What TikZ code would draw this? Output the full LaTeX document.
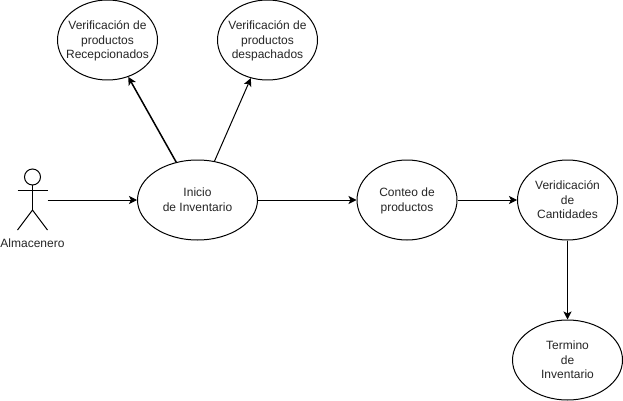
\documentclass[tikz,border=0pt]{standalone}
\usepackage{fontspec}
\setmainfont{Liberation Sans}
\usetikzlibrary{arrows.meta,shapes.geometric}
\newcommand{\uctext}[1]{\makebox[0pt]{\raisebox{-4.2pt}[0pt][0pt]{\begin{tabular}{@{}c@{}}#1\end{tabular}}}}
\tikzset{
  uc/.style={draw=black,line width=1pt,ellipse,fill=white,inner sep=0pt,minimum height=80pt,font=\fontsize{12}{14.7}\selectfont,text=black!85},
  flow/.style={draw=black,line width=1pt,-{Stealth[length=8pt,width=8pt,inset=2pt]}},
  heavy/.style={flow,line width=1.5pt},
  stick/.style={draw=black,line width=1pt},
}
\begin{document}
\begin{tikzpicture}[x=1pt,y=-1pt]
\useasboundingbox (0,0) rectangle (623,401);
\fill[white] (0,0) rectangle (623,401);
\node[uc,minimum width=100pt] (rec) at (107.5,40) {\uctext{Verificación de\\productos\\Recepcionados}};
\node[uc,minimum width=100pt] (des) at (267.5,40) {\uctext{Verificación de\\productos\\despachados}};
\node[uc,minimum width=120pt] (ini) at (197.5,200) {\uctext{Inicio\\de Inventario}};
\node[uc,minimum width=100pt] (con) at (407,200) {\uctext{Conteo de\\productos}};
\node[uc,minimum width=100pt] (ver) at (567.5,200) {\uctext{Veridicación\\de\\Cantidades}};
\node[uc,minimum width=110pt] (ter) at (567.5,360) {\uctext{Termino\\de\\Inventario}};
\node[inner sep=0pt,minimum width=30pt,minimum height=60pt] (act) at (32.5,200) {};
\node[inner sep=0pt,font=\fontsize{12}{14.7}\selectfont,text=black!85] (lab) at (32.5,243.5) {Almacenero};
\draw[stick] (32.5,177) circle (8);
\draw[stick] (32.5,185) -- (32.5,210);
\draw[stick] (17.5,190) -- (47.5,190);
\draw[stick] (17.5,230) -- (32.5,210) -- (47.5,230);
\draw[flow] (act) -- (ini);
\draw[heavy] (ini) -- (rec);
\draw[flow] (ini) -- (des);
\draw[flow] (ini) -- (con);
\draw[flow] (con) -- (ver);
\draw[flow] (ver) -- (ter);
\end{tikzpicture}
\end{document}
